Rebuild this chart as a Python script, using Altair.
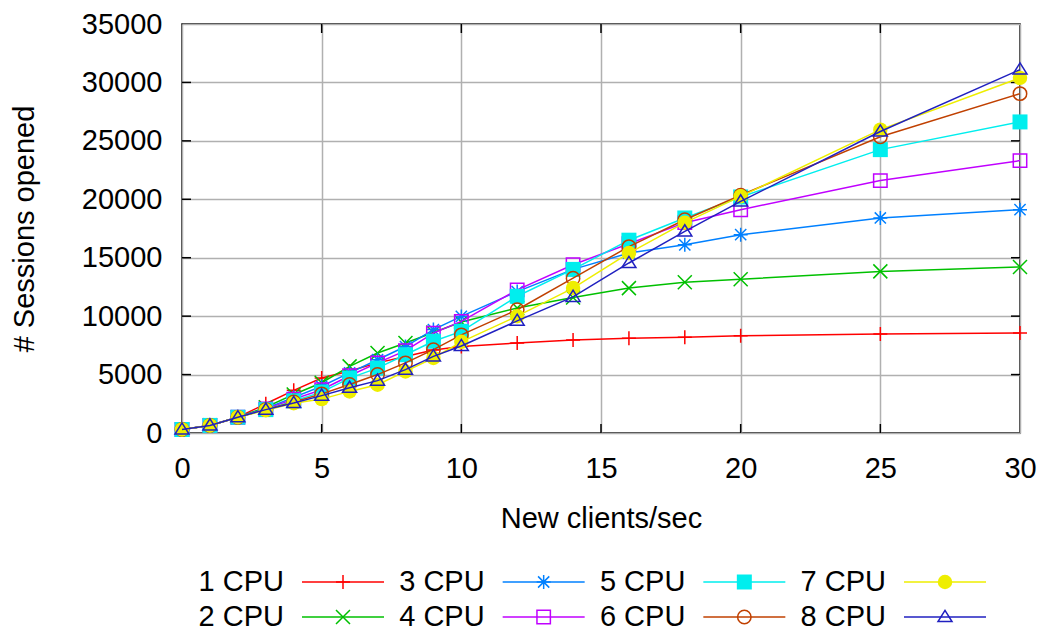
import altair as alt
import pandas as pd

# ---- data ----
x_vals = [0, 1, 2, 3, 4, 5, 6, 7, 8, 9, 10, 12, 14, 16, 18, 20, 25, 30]
cpu1 = [300, 650, 1350, 2500, 3650, 4700, 5300, 6000, 6550, 7100, 7400, 7700, 7950, 8100, 8200, 8330, 8470, 8560]
cpu2 = [300, 650, 1350, 2200, 3300, 4300, 5700, 6850, 7700, 8600, 9500, 10700, 11600, 12400, 12900, 13150, 13830, 14210]
cpu3 = [300, 650, 1350, 2100, 3050, 4000, 5150, 6270, 7400, 8850, 9980, 12100, 14000, 15400, 16100, 16970, 18400, 19110]
cpu4 = [300, 650, 1350, 2050, 2900, 3700, 4900, 6000, 7050, 8550, 9550, 12250, 14400, 16200, 18000, 19110, 21600, 23310]
cpu5 = [300, 650, 1350, 2000, 2750, 3500, 4700, 5550, 6700, 7850, 8700, 11700, 14000, 16500, 18400, 20200, 24250, 26620]
cpu6 = [300, 650, 1350, 2000, 2650, 3350, 4150, 5000, 6000, 7130, 8400, 10550, 13250, 15950, 18250, 20350, 25350, 29040]
cpu7 = [300, 650, 1350, 1950, 2550, 2900, 3560, 4130, 5270, 6420, 7800, 10000, 12400, 15400, 18000, 20250, 25960, 30390]
cpu8 = [300, 650, 1350, 2000, 2570, 3200, 3870, 4480, 5420, 6560, 7450, 9600, 11650, 14550, 17250, 19820, 25800, 31100]
series_values = [cpu1, cpu2, cpu3, cpu4, cpu5, cpu6, cpu7, cpu8]
series_names = ["1 CPU", "2 CPU", "3 CPU", "4 CPU", "5 CPU", "6 CPU", "7 CPU", "8 CPU"]
x_ticks = [0, 5, 10, 15, 20, 25, 30]
y_ticks = [0, 5000, 10000, 15000, 20000, 25000, 30000, 35000]

# ---- styles ----
colors = ["#ff0000", "#00c000", "#0080ff", "#c000ff", "#00eeee", "#c04000", "#eeee00", "#2020c0"]
shapes = [
    "M-1,0L1,0M0,-1L0,1",
    "M-1,-1L1,1M-1,1L1,-1",
    "M-1,0L1,0M0,-1L0,1M-0.8,-0.8L0.8,0.8M-0.8,0.8L0.8,-0.8",
    "square",
    "square",
    "circle",
    "circle",
    "M0,-0.95L1,0.65L-1,0.65Z",
]
filled = [False, False, False, False, True, False, True, False]
sizes = [196, 196, 196, 180, 225, 180, 210, 196]

FONT = "Liberation Sans"
FS = 29
W, H = 838, 409

X = alt.X("x:Q", scale=alt.Scale(domain=[0, 30], nice=False, zero=False),
          axis=alt.Axis(values=x_ticks, title="New clients/sec", grid=True, ticks=False, tickSize=0,
                        domain=False, labelPadding=21, labelFlush=False, labelOverlap=False,
                        format="d",
                        titleX=W / 2, titleY=85, titleBaseline="middle", titleAlign="center"))
Y = alt.Y("y:Q", scale=alt.Scale(domain=[0, 35000], nice=False),
          axis=alt.Axis(values=y_ticks, title="# Sessions opened", grid=True, ticks=False, tickSize=0,
                        domain=False, labelPadding=20, labelOverlap=False, format="d",
                        titleAngle=270, titleX=-158, titleY=H / 2,
                        titleBaseline="middle", titleAlign="center"))

main_layers = []
# inner tick marks (gnuplot style)
ytick_df = pd.DataFrame({"y": y_ticks[1:-1]})
xtick_df = pd.DataFrame({"x": x_ticks[1:-1]})
main_layers.append(alt.Chart(ytick_df).mark_rule(color="black", strokeWidth=1.5)
                   .encode(y=Y, x=alt.value(0), x2=alt.value(9)))
main_layers.append(alt.Chart(ytick_df).mark_rule(color="black", strokeWidth=1.5)
                   .encode(y=Y, x=alt.value(W - 9), x2=alt.value(W)))
main_layers.append(alt.Chart(xtick_df).mark_rule(color="black", strokeWidth=1.5)
                   .encode(x=X, y=alt.value(H - 9), y2=alt.value(H)))
main_layers.append(alt.Chart(xtick_df).mark_rule(color="black", strokeWidth=1.5)
                   .encode(x=X, y=alt.value(0), y2=alt.value(9)))

for i, vals in enumerate(series_values):
    df = pd.DataFrame({"x": x_vals, "y": vals})
    c = colors[i]
    main_layers.append(alt.Chart(df).mark_line(color=c, strokeWidth=1.5).encode(x=X, y=Y))
    if filled[i]:
        pm = alt.Chart(df).mark_point(shape=shapes[i], size=sizes[i], filled=True, fill=c,
                                      strokeWidth=0, opacity=1)
    else:
        pm = alt.Chart(df).mark_point(shape=shapes[i], size=sizes[i], filled=False, stroke=c,
                                      strokeWidth=1.5, opacity=1)
    main_layers.append(pm.encode(x=X, y=Y))

# ---- gnuplot-like key (label then sample) ----
LX = alt.X("lx:Q", scale=alt.Scale(domain=[0, 3], range=[102, 704]), axis=None)
LY = alt.Y("ly:Q", scale=alt.Scale(domain=[0, 1], range=[558, 593]), axis=None)
leg_layers = []
for i, name in enumerate(series_names):
    ldf = pd.DataFrame({"lx": [i // 2], "ly": [i % 2], "label": [name]})
    c = colors[i]
    leg_layers.append(alt.Chart(ldf).mark_text(align="right", baseline="middle", font=FONT,
                                              fontSize=FS, color="black")
                      .encode(x=LX, y=LY, text="label:N"))
    leg_layers.append(alt.Chart(ldf).mark_rule(color=c, strokeWidth=1.5, xOffset=18, x2Offset=100)
                      .encode(x=LX, x2="lx:Q", y=LY))
    if filled[i]:
        lp = alt.Chart(ldf).mark_point(shape=shapes[i], size=sizes[i], filled=True, fill=c,
                                       strokeWidth=0, opacity=1, xOffset=59)
    else:
        lp = alt.Chart(ldf).mark_point(shape=shapes[i], size=sizes[i], filled=False, stroke=c,
                                       strokeWidth=1.5, opacity=1, xOffset=59)
    leg_layers.append(lp.encode(x=LX, y=LY))

chart = (
    alt.layer(alt.layer(*main_layers), alt.layer(*leg_layers))
    .resolve_scale(x="independent", y="independent")
    .properties(width=W, height=H,
                padding={"left": 174, "top": 16, "right": 24, "bottom": 200},
                autosize=alt.AutoSizeParams(type="none"))
    .configure_view(stroke="black", strokeWidth=1.5)
    .configure_axis(labelFont=FONT, titleFont=FONT, labelFontSize=FS, titleFontSize=FS,
                    labelColor="black", titleColor="black", gridColor="#b0b0b0", gridWidth=1.5,
                    gridOpacity=1, titleFontWeight="normal")
)

chart.save("out.html", embed_options={"renderer": "svg", "actions": False})
